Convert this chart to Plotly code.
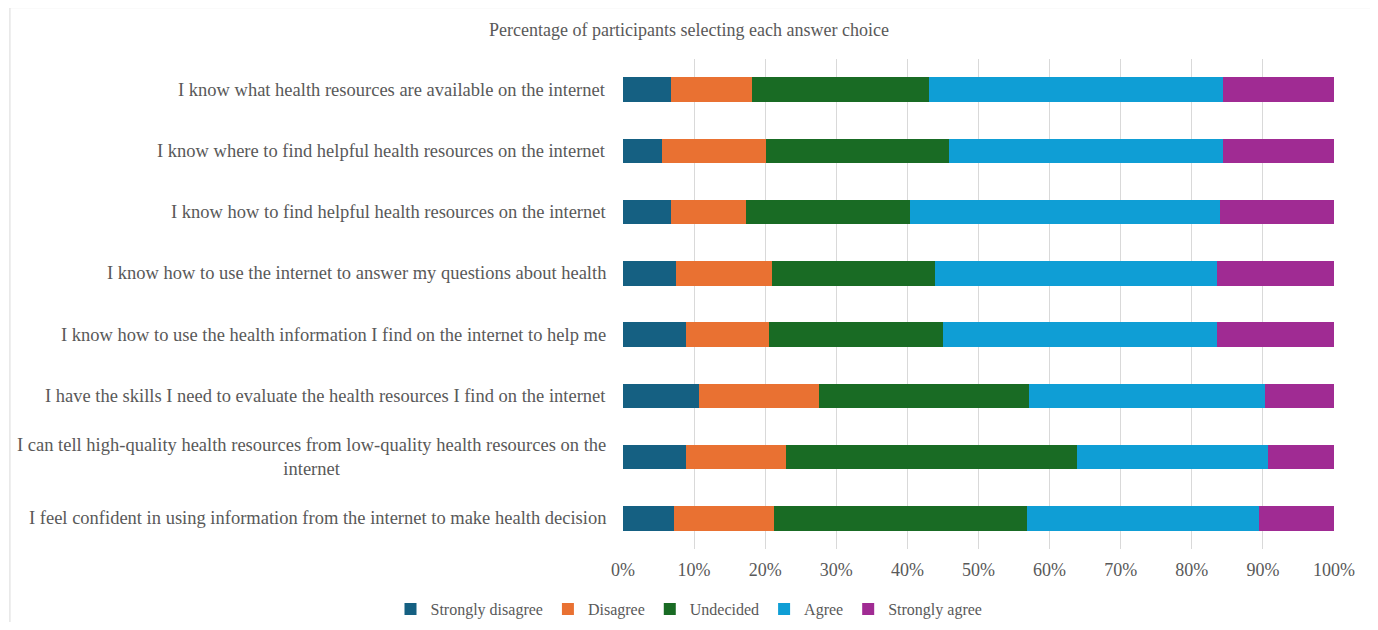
import plotly.graph_objects as go

statements = [
    "I know what health resources are available on the internet",
    "I know where to find helpful health resources on the internet",
    "I know how to find helpful health resources on the internet",
    "I know how to use the internet to answer my questions about health",
    "I know how to use the health information I find on the internet to help me",
    "I have the skills I need to evaluate the health resources I find on the internet",
    "I can tell high-quality health resources from low-quality health resources on the<br>internet",
    "I feel confident in using information from the internet to make health decision",
]

strongly_disagree = [6.8, 5.5, 6.8, 7.5, 8.8, 10.7, 8.8, 7.2]
disagree = [11.4, 14.6, 10.5, 13.5, 11.8, 16.9, 14.1, 14.1]
undecided = [24.8, 25.7, 23.0, 22.9, 24.4, 29.5, 40.9, 35.5]
agree = [41.4, 38.6, 43.7, 39.7, 38.5, 33.2, 26.9, 32.7]
strongly_agree = [15.6, 15.6, 16.0, 16.4, 16.5, 9.7, 9.3, 10.5]

series_names = ["Strongly disagree", "Disagree", "Undecided", "Agree", "Strongly agree"]
series_values = [strongly_disagree, disagree, undecided, agree, strongly_agree]
colors = ["#156082", "#E97132", "#196B24", "#0F9ED5", "#A02B93"]

tick_vals = [0, 10, 20, 30, 40, 50, 60, 70, 80, 90, 100]
tick_text = [f"{v}%" for v in tick_vals]

FONT = "Liberation Serif, Times New Roman, serif"
TEXT = "#595959"

W, H = 1362, 614          # page body has an 8px margin
L, T = 615, 51
PW, PH = 711.5, 496

fig = go.Figure()
for name, vals, c in zip(series_names, series_values, colors):
    fig.add_trace(go.Bar(
        y=statements, x=vals, name=name, orientation="h",
        marker=dict(color=c, line=dict(width=0)),
    ))

for s in statements:
    fig.add_annotation(
        x=0, xref="paper", y=s, yref="y", xanchor="right", yanchor="middle",
        xshift=-15, text=s, showarrow=False, align="center",
        font=dict(family=FONT, size=18.5, color=TEXT),
    )

fig.add_shape(type="rect", xref="paper", yref="paper",
              x0=(1.5 - L) / PW, x1=(1365 - L) / PW,
              y0=-(640 - (T + PH)) / PH, y1=1 + (T + 1) / PH,
              line=dict(color="#D9D9D9", width=1), layer="below")

fig.update_layout(
    width=W, height=H,
    margin=dict(l=L, r=W - L - PW, t=T, b=H - T - PH),
    barmode="stack", bargap=0.6,
    plot_bgcolor="white", paper_bgcolor="white",
    font=dict(family=FONT, size=18, color=TEXT),
    title=dict(text="Percentage of participants selecting each answer choice",
               xref="container", x=0.5, xanchor="center",
               yref="container", y=1 - 22 / H, yanchor="middle",
               font=dict(family=FONT, size=18, color=TEXT)),
    xaxis=dict(range=[0, 100], tickvals=tick_vals, ticktext=tick_text,
               showgrid=True, gridcolor="#D9D9D9", gridwidth=1,
               zeroline=False, showline=False, ticks="",
               ticklabelstandoff=8,
               tickfont=dict(family=FONT, size=18, color=TEXT)),
    yaxis=dict(autorange="reversed", showticklabels=False, showgrid=False,
               zeroline=False, showline=False, ticks=""),
    legend=dict(orientation="h", xref="container", x=0.5, xanchor="center",
                yref="container", y=1 - 601 / H, yanchor="middle",
                bgcolor="rgba(0,0,0,0)",
                font=dict(family=FONT, size=16, color=TEXT),
                itemwidth=30, traceorder="normal"),
    showlegend=True,
)

fig.write_html("out.html")
